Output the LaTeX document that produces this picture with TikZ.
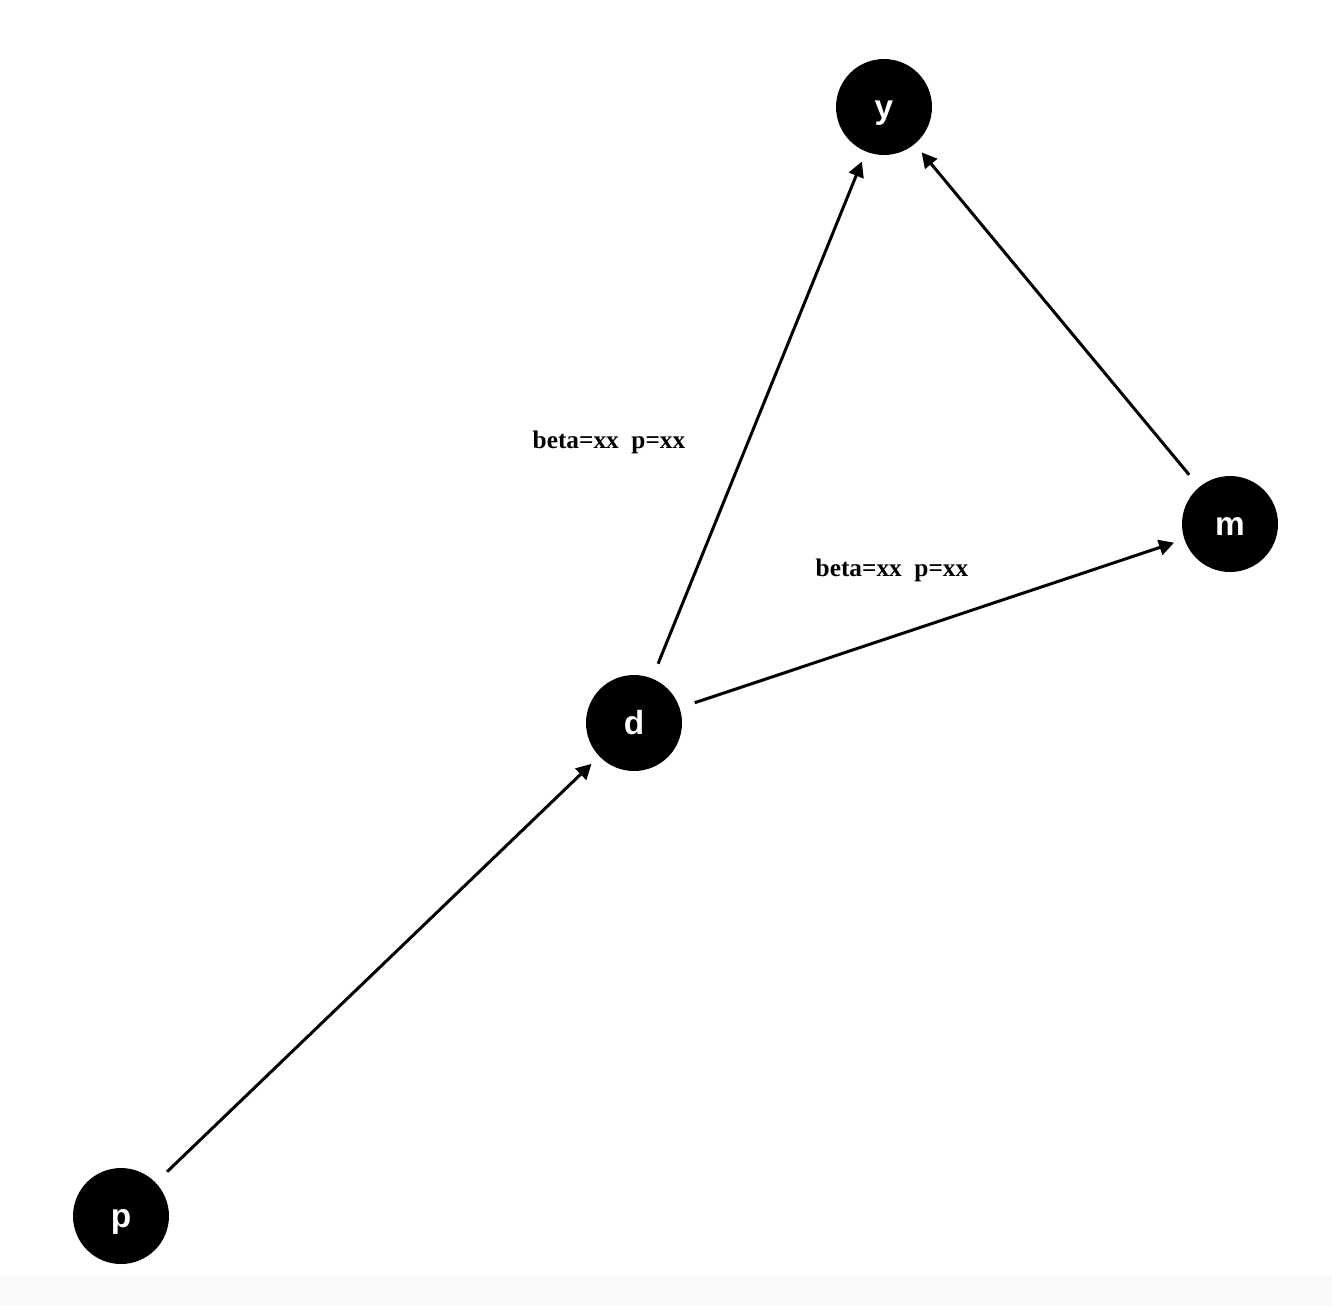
\documentclass[tikz,border=0pt]{standalone}
\usepackage{fontspec}
\setmainfont{Liberation Serif}
\newfontfamily\dagsans{Liberation Sans}
\usepackage{xcolor}
\usepackage{tikz}
\usetikzlibrary{arrows.meta,positioning}
\definecolor{DagBlack}{HTML}{000000}
\definecolor{DagStrip}{HTML}{FAFAFA}

\begin{document}
\begin{tikzpicture}[
    x=0.02cm,y=-0.02cm,
    var/.style={circle, fill=DagBlack, text=white, minimum size=1.92cm, inner sep=0pt, outer sep=0pt, text height=13.4pt, text depth=0pt, font=\dagsans\bfseries\fontsize{19}{22}\selectfont},
    path/.style={-{Triangle[length=0.3cm,width=0.31cm]}, line width=1.7pt, draw=DagBlack, shorten <=0.32cm, shorten >=0.22cm},
    est/.style={font=\bfseries\fontsize{14.4}{17}\selectfont, inner sep=0pt}
  ]
    \useasboundingbox (0,0) rectangle (1332,1306);
    \fill[DagStrip] (0,1276) rectangle (1332,1306);

    \node[var] (y) at (884,107) {y};
    \node[var] (m) at (1230,524) {m};
    \node[var] (d) at (634,723) {d};
    \node[var] (p) at (121,1216) {p};

    \draw[path] (p) -- (d);
    \draw[path] (d) -- (y);
    \draw[path] (d) -- (m);
    \draw[path] (m) -- (y);

    \node[est] (dy) at (609,442) {beta=xx\ \ p=xx};
    \node[est] (dm) at (892,570) {beta=xx\ \ p=xx};
  \end{tikzpicture}
\end{document}
